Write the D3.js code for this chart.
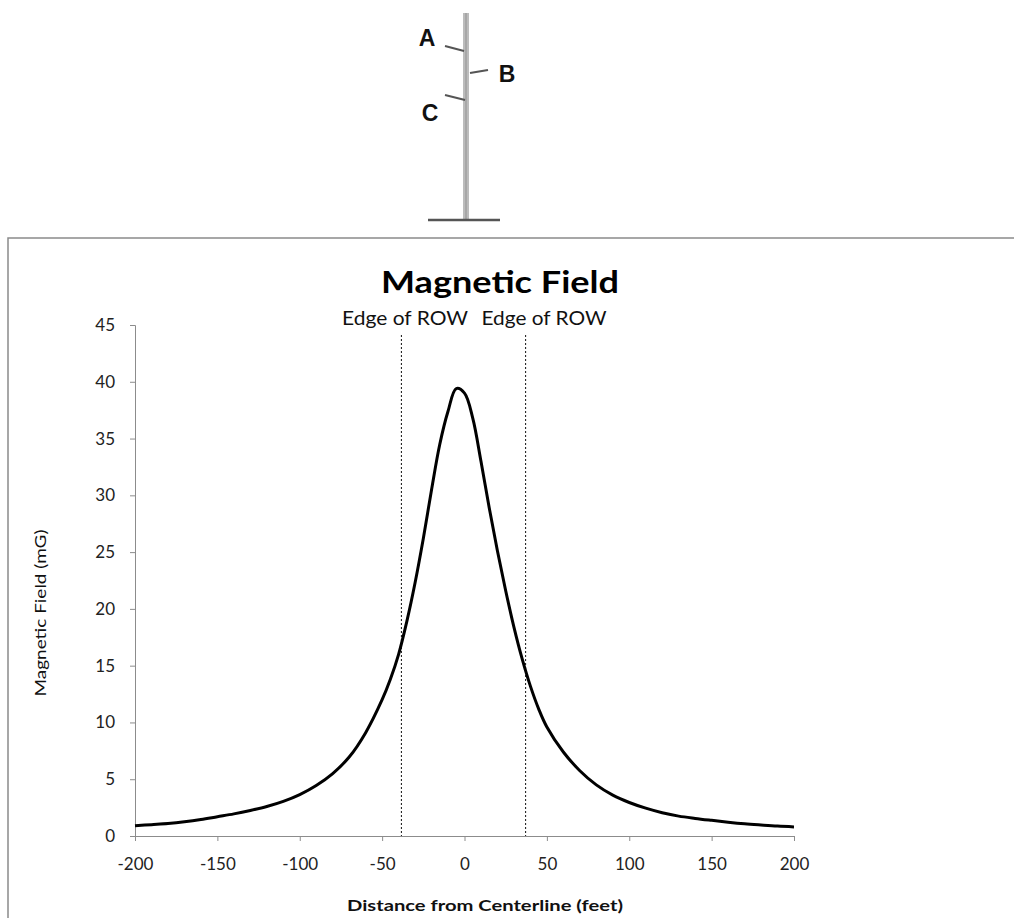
<!DOCTYPE html>
<html><head><meta charset="utf-8">
<script src="https://cdn.jsdelivr.net/npm/d3@7"></script>
<style>html,body{margin:0;padding:0;background:#fff;}svg{display:block;}</style>
</head><body>
<svg id="c" width="1014" height="918"></svg>
<script>
// ---- data ----
const distances = [-200,-190,-180,-170,-160,-150,-140,-130,-120,-110,-100,-90,-80,-70,-60,-50,-45,-40,-35,-30,-25,-20,-15,-10,-5,0,5,10,15,20,25,30,35,40,45,50,60,70,80,90,100,110,120,130,140,150,160,170,180,190,200];
const fieldMG = [0.9,1.0,1.1,1.25,1.45,1.7,1.95,2.25,2.6,3.05,3.65,4.45,5.5,6.95,9.1,12.0,13.8,16.0,18.9,22.3,26.2,30.5,34.5,37.4,39.4,39.0,36.8,33.0,28.9,25.1,21.6,18.4,15.6,13.2,11.2,9.6,7.4,5.75,4.5,3.6,2.95,2.45,2.05,1.75,1.55,1.38,1.22,1.08,0.97,0.87,0.8];
const rowEdges = [-38.3, 37.1];
const rowLabel = "Edge of ROW";
const xTicks = [-200,-150,-100,-50,0,50,100,150,200];
const yTicks = [0,5,10,15,20,25,30,35,40,45];
const chartTitle = "Magnetic Field";
const xTitle = "Distance from Centerline (feet)";
const yTitle = "Magnetic Field (mG)";
const arms = ["A","B","C"];

const svg = d3.select("#c");
const font = "Lato, 'Open Sans', sans-serif";

// ---- pole diagram ----
const pole = svg.append("g");
pole.append("line").attr("x1",466).attr("x2",466).attr("y1",13).attr("y2",219)
  .attr("stroke","#bcbcbc").attr("stroke-width",6);
pole.append("line").attr("x1",466).attr("x2",466).attr("y1",13).attr("y2",219)
  .attr("stroke","#a0a0a0").attr("stroke-width",1.5);
pole.append("line").attr("x1",428).attr("x2",500).attr("y1",220).attr("y2",220)
  .attr("stroke","#555").attr("stroke-width",2.5);
const armGeom = [
  {x1:445,y1:46,x2:464,y2:51,lx:427,ly:38},
  {x1:470,y1:73,x2:488,y2:70,lx:507,ly:74},
  {x1:445,y1:95,x2:465,y2:100,lx:430,ly:113}
];
arms.forEach((a,i)=>{
  const g = armGeom[i];
  pole.append("line").attr("x1",g.x1).attr("y1",g.y1).attr("x2",g.x2).attr("y2",g.y2)
    .attr("stroke","#555").attr("stroke-width",2);
  pole.append("text").attr("x",g.lx).attr("y",g.ly).attr("text-anchor","middle")
    .attr("dominant-baseline","central").attr("font-family","'Liberation Sans', Arial, sans-serif")
    .attr("font-weight","bold").attr("font-size",23).attr("fill","#111").text(a);
});

// ---- chart frame ----
svg.append("path").attr("d","M8,918 L8,238 L1014,238").attr("fill","none")
  .attr("stroke","#8a8a8a").attr("stroke-width",1.5);

// ---- scales ----
const x = d3.scaleLinear().domain([-200,200]).range([135,794]);
const y = d3.scaleLinear().domain([0,45]).range([836,325]);

// axes
const yAxis = svg.append("g").attr("transform",`translate(${x(-200)},0)`)
  .call(d3.axisLeft(y).tickValues(yTicks).tickSize(5).tickPadding(15).tickFormat(d => String(d)));
const xAxis = svg.append("g").attr("transform",`translate(0,${y(0)})`)
  .call(d3.axisBottom(x).tickValues(xTicks).tickSize(5).tickPadding(17).tickFormat(d => String(d)));
[yAxis,xAxis].forEach(a=>{
  a.select(".domain").attr("stroke","#8c8c8c");
  a.selectAll(".tick line").attr("stroke","#8c8c8c");
  a.selectAll("text").attr("font-family",font).attr("font-size",17).attr("fill","#222");
});

// edge of ROW lines
rowEdges.forEach(v=>{
  svg.append("line").attr("x1",x(v)).attr("x2",x(v)).attr("y1",335).attr("y2",y(0))
    .attr("stroke","#111").attr("stroke-width",1).attr("stroke-dasharray","2,2");
});
svg.append("text").attr("x",405).attr("y",325).attr("text-anchor","middle")
  .attr("font-family",font).attr("font-size",19).attr("textLength",126).attr("lengthAdjust","spacingAndGlyphs")
  .attr("fill","#111").text(rowLabel);
svg.append("text").attr("x",544).attr("y",325).attr("text-anchor","middle")
  .attr("font-family",font).attr("font-size",19).attr("textLength",125).attr("lengthAdjust","spacingAndGlyphs")
  .attr("fill","#111").text(rowLabel);

// curve
const line = d3.line().x((d,i)=>x(distances[i])).y(d=>y(d)).curve(d3.curveCatmullRom.alpha(0.5));
svg.append("path").datum(fieldMG).attr("d",line).attr("fill","none")
  .attr("stroke","#000").attr("stroke-width",3);

// titles
svg.append("text").attr("x",500).attr("y",293).attr("text-anchor","middle")
  .attr("font-family",font).attr("font-weight","bold").attr("font-size",31)
  .attr("textLength",238).attr("lengthAdjust","spacingAndGlyphs").attr("fill","#000").text(chartTitle);
svg.append("text").attr("x",485).attr("y",911).attr("text-anchor","middle")
  .attr("font-family",font).attr("font-weight","bold").attr("font-size",16)
  .attr("textLength",276).attr("lengthAdjust","spacingAndGlyphs").attr("fill","#111").text(xTitle);
svg.append("text").attr("transform","translate(46,613) rotate(-90)").attr("text-anchor","middle")
  .attr("font-family",font).attr("font-size",15).attr("textLength",167).attr("lengthAdjust","spacingAndGlyphs")
  .attr("fill","#111").text(yTitle);
</script>
</body></html>
